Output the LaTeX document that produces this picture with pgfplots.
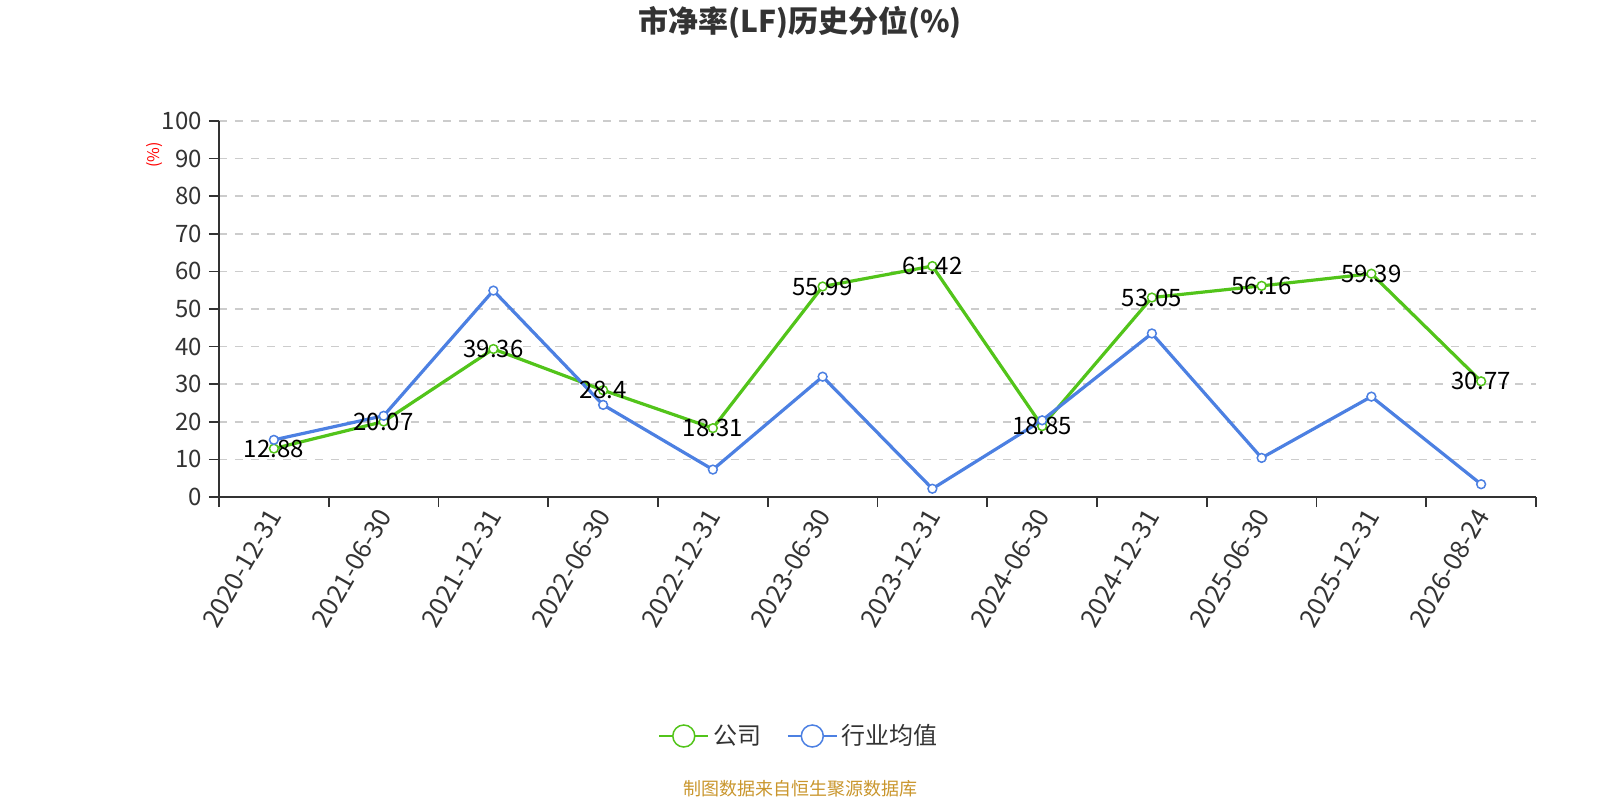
\documentclass[border=0pt]{standalone}
\usepackage{fontspec}
\setmainfont{Noto Sans CJK SC}
\usepackage{pgfplots}
\pgfplotsset{compat=1.18}
\usepackage{pgfplotstable}
\definecolor{cgreen}{RGB}{82,196,26}
\definecolor{cblue}{RGB}{76,128,226}
\definecolor{txt}{RGB}{51,51,51}
\definecolor{src}{RGB}{201,150,45}
\definecolor{gridc}{RGB}{204,204,204}

\pgfplotstableread{
x y label
0 12.88 12.88
1 20.07 20.07
2 39.36 39.36
3 28.4 28.4
4 18.31 18.31
5 55.99 55.99
6 61.42 61.42
7 18.85 18.85
8 53.05 53.05
9 56.16 56.16
10 59.39 59.39
11 30.77 30.77
}\company
\pgfplotstableread{
x y
0 15.2
1 21.6
2 54.9
3 24.5
4 7.3
5 32.0
6 2.2
7 20.4
8 43.5
9 10.4
10 26.7
11 3.4
}\industry

\begin{document}
\begin{tikzpicture}
\path[use as bounding box] (-109.5pt,-151.5pt) rectangle (690.5pt,248.5pt);
\begin{axis}[
  at={(0pt,0pt)}, anchor=south west,
  scale only axis, width=658.5pt, height=188pt,
  xmin=-0.5, xmax=11.5, ymin=0, ymax=100,
  clip=false,
  axis x line*=bottom, axis y line*=left,
  axis line style={-, draw=txt, line width=0.8pt},
  xtick={0,...,11},
  xticklabels={2020-12-31,2021-06-30,2021-12-31,2022-06-30,2022-12-31,2023-06-30,2023-12-31,2024-06-30,2024-12-31,2025-06-30,2025-12-31,2026-08-24},
  major x tick style={draw=none},
  minor xtick={-0.5,0.5,...,11.5},
  major tick length=5pt, minor tick length=5pt,
  tick align=outside,
  tick style={draw=txt, line width=0.8pt},
  ytick={0,10,...,100},
  ymajorgrids,
  grid style={gridc, dash pattern=on 4pt off 4pt, line width=0.75pt},
  xticklabel style={rotate=60, anchor=east, font=\fontsize{12.8pt}{14pt}\selectfont, text=txt, xshift=2pt, yshift=-1.5pt},
  yticklabel style={font=\fontsize{12pt}{14pt}\selectfont, text=txt},
  /pgf/number format/assume math mode=true,
  ylabel={(\%)},
  ylabel style={at={(axis description cs:-0.0486,0.9096)}, anchor=center, text=red, font=\fontsize{8pt}{9pt}\selectfont},
  legend style={at={(axis description cs:0.4412,-0.6356)}, anchor=center, draw=none, fill=none,
    font=\fontsize{12pt}{14pt}\selectfont, text=txt,
    /tikz/every even column/.append style={column sep=11pt}},
  legend columns=2,
  legend image code/.code={
    \draw[#1, mark=none, line width=0.75pt] (0pt,0pt) -- (24.5pt,0pt);
    \draw[#1, mark=none, line width=0.75pt, fill=white] (12.25pt,0pt) circle (5.5pt);
  },
]
\addplot[cgreen, line width=1.6pt, mark=*, mark size=2.2pt, mark options={fill=white, line width=0.75pt}]
  table[x=x,y=y]{\company};
\addlegendentry{公司}
\addplot[cblue, line width=1.6pt, mark=*, mark size=2.2pt, mark options={fill=white, line width=0.75pt}]
  table[x=x,y=y]{\industry};
\addlegendentry{行业均值}
\addplot[forget plot, draw=none, mark=none, nodes near coords, point meta=explicit symbolic,
  nodes near coords style={anchor=center, text=black, font=\fontsize{12pt}{14pt}\selectfont}]
  table[x=x,y=y,meta=label]{\company};
\end{axis}
\node[font=\fontsize{15pt}{18pt}\selectfont\bfseries, text=txt] at (290.5pt,237.3pt) {市净率(LF)历史分位(\%)};
\node[font=\fontsize{9pt}{11pt}\selectfont, text=src] at (290.5pt,-146pt) {制图数据来自恒生聚源数据库};
\end{tikzpicture}
\end{document}
